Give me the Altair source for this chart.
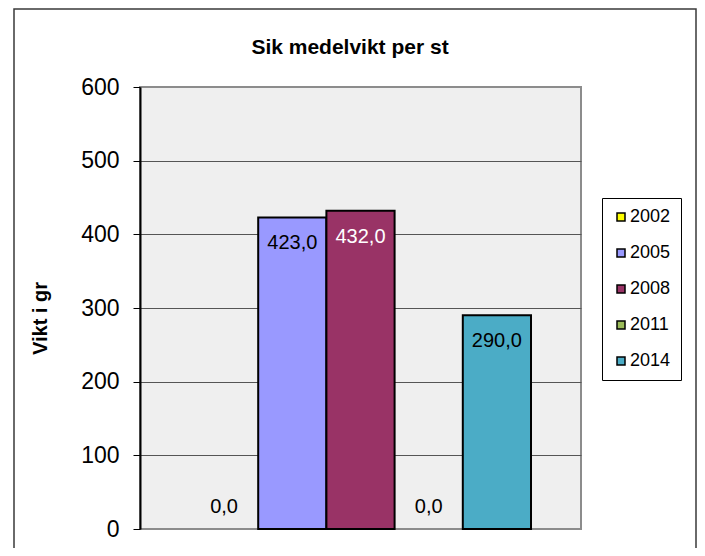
import altair as alt
import pandas as pd

title_text = "Sik medelvikt per st"
years = ["2002", "2005", "2008", "2011", "2014"]
values = [0.0, 423.0, 432.0, 0.0, 290.0]
colors = ["#FFFF00", "#9999FF", "#993366", "#9BBB59", "#4BACC6"]
y_ticks = [0, 100, 200, 300, 400, 500, 600]

df = pd.DataFrame({
    "year": years,
    "value": values,
    "label": [f"{v:.1f}".replace(".", ",") for v in values],
})

FONT = "Liberation Sans"

x_scale = alt.Scale(domain=years, paddingInner=0, paddingOuter=0.733)
x_enc = alt.X("year:N", scale=x_scale, axis=None)
y_enc = alt.Y(
    "value:Q",
    scale=alt.Scale(domain=[0, 600], nice=False),
    axis=alt.Axis(
        values=y_ticks,
        title="Vikt i gr",
        titleFont=FONT,
        titleFontSize=20,
        titleFontWeight="bold",
        titleColor="black",
        titleAngle=-90,
        titleX=-100,
        titleY=231,
        titleAlign="center",
        titleBaseline="middle",
        labelFont=FONT,
        labelFontSize=23,
        labelColor="black",
        labelPadding=14,
        tickSize=7,
        tickColor="black",
        tickWidth=1,
        domainColor="black",
        domainWidth=2,
        grid=True,
        gridColor={"condition": {"test": "datum.value === 0 || datum.value === 600", "value": "#8c8c8c"}, "value": "#555555"},
        gridWidth=1,
    ),
)

base = alt.Chart(df)

bars = base.transform_filter("datum.value > 0").mark_bar(stroke="black", strokeWidth=2).encode(
    x=x_enc,
    y=y_enc,
    color=alt.Color(
        "year:N",
        scale=alt.Scale(domain=years, range=colors),
        legend=alt.Legend(
            title=None,
            orient="none",
            legendX=462,
            legendY=111,
            strokeColor="black",
            fillColor="white",
            padding=10,
            symbolType="square",
            symbolSize=64,
            symbolStrokeColor="black",
            symbolStrokeWidth=1.5,
            labelFont=FONT,
            labelFontSize=18,
            labelColor="black",
            labelOffset=0,
            rowPadding=18,
        ),
    ),
)

labels_in = base.transform_filter("datum.value > 0").mark_text(
    font=FONT, fontSize=20, baseline="middle", align="center", dy=26
).encode(
    x=alt.X("year:N", scale=x_scale, axis=None),
    y=alt.Y("value:Q"),
    text="label:N",
    color=alt.condition("datum.year === '2008'", alt.value("white"), alt.value("black")),
)

labels_zero = base.transform_filter("datum.value <= 0").mark_text(
    font=FONT, fontSize=20, baseline="middle", align="center", dy=-22, color="black"
).encode(
    x=alt.X("year:N", scale=x_scale, axis=None),
    y=alt.Y("value:Q"),
    text="label:N",
)

frame = alt.Chart(alt.Data(values=[{}])).mark_rect(fill=None, stroke="#3a3a3a", strokeWidth=1.5).encode(
    x=alt.value(-126), x2=alt.value(556), y=alt.value(-78), y2=alt.value(480)
)

title = alt.Chart(alt.Data(values=[{"t": title_text}])).mark_text(
    font=FONT, fontSize=21, fontWeight="bold", color="black", align="center", baseline="middle"
).encode(
    x=alt.value(210), y=alt.value(-39), text="t:N"
)

chart = alt.layer(frame, title, bars, labels_in, labels_zero).properties(
    width=441,
    height=442,
    autosize=alt.AutoSizeParams(type="none"),
    padding={"left": 132, "top": 79, "right": 116, "bottom": 19},
).configure_view(
    fill="#EFEFEF", stroke="#8c8c8c", strokeWidth=2
)

chart.save("out.html", embed_options={"renderer": "svg", "actions": False})
